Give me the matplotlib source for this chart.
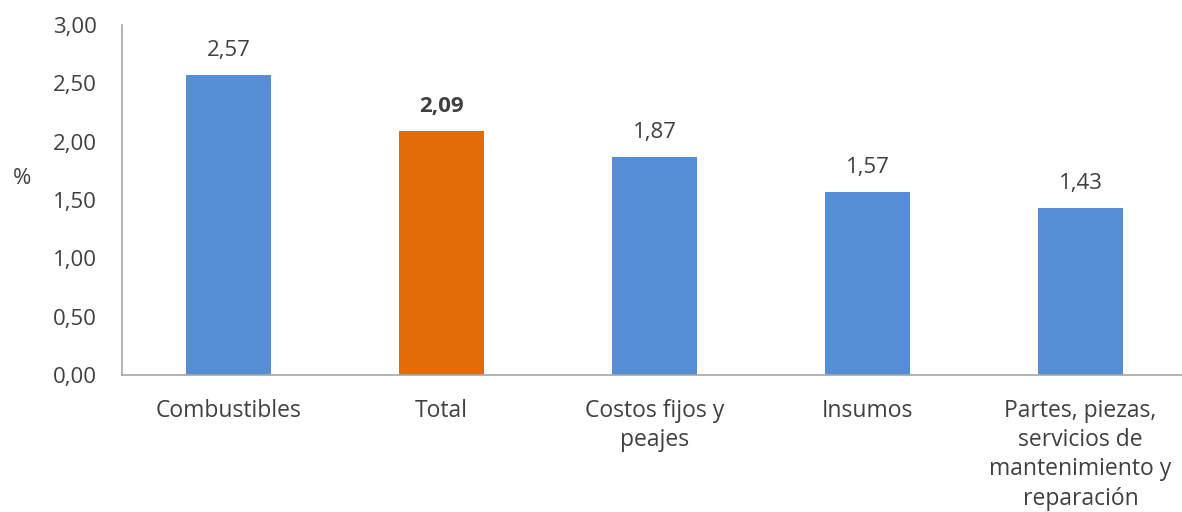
import matplotlib
matplotlib.use("Agg")
import matplotlib.pyplot as plt
from matplotlib.ticker import FuncFormatter

categories = ["Combustibles", "Total", "Costos fijos y\npeajes", "Insumos",
              "Partes, piezas,\nservicios de\nmantenimiento y\nreparación"]
values = [2.57, 2.09, 1.87, 1.57, 1.43]
colors = ["#558ED5", "#E36C09", "#558ED5", "#558ED5", "#558ED5"]
bold = [False, True, False, False, False]

plt.rcParams['font.family'] = ['Open Sans', 'DejaVu Sans']
txt = "#404040"
fs = 16

fig = plt.figure(figsize=(11.82, 5.12), dpi=100)
ax = fig.add_axes([122 / 1182, 137 / 512, 5 * 213 / 1182, 350 / 512])

x = range(len(categories))
ax.bar(x, values, width=0.4, color=colors)

for i, v in enumerate(values):
    ax.annotate(f"{v:.2f}".replace(".", ","), (i, v), xytext=(0, 10),
                textcoords="offset points", ha="center", va="bottom",
                fontsize=fs, color=txt, fontweight="bold" if bold[i] else "normal")

ax.set_xlim(-0.5, len(categories) - 0.5)
ax.set_ylim(0, 3.0)
ax.set_yticks([0, 0.5, 1.0, 1.5, 2.0, 2.5, 3.0])
ax.yaxis.set_major_formatter(FuncFormatter(lambda v, p: f"{v:.2f}".replace(".", ",")))
ax.set_xticks(list(x))
ax.set_xticklabels(categories, linespacing=1.3, fontsize=16.5)
ax.tick_params(axis="both", length=0, colors=txt)
ax.tick_params(axis="y", labelsize=fs, pad=18)
ax.tick_params(axis="x", pad=17)

for s in ["top", "right"]:
    ax.spines[s].set_visible(False)
for s in ["left", "bottom"]:
    ax.spines[s].set_color("#A6A6A6")
    ax.spines[s].set_linewidth(1.2)

fig.text(22 / 1182, 1 - 178 / 512, "%", ha="center", va="center",
         fontsize=fs, color=txt)

fig.savefig("out.png", dpi=100)
